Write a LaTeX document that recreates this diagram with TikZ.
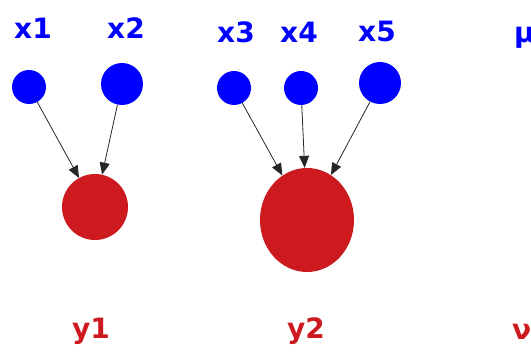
\documentclass[tikz,border=0pt]{standalone}
\usepackage{fontspec}
\setmainfont{DejaVu Sans}
\usepackage{xcolor}
\usetikzlibrary{arrows.meta,shapes.geometric}
\definecolor{InBlue}{HTML}{0000FF}
\definecolor{OutRed}{HTML}{CD1A1F}

\begin{document}
\begin{tikzpicture}[x=1pt,y=-1pt,>={Triangle[length=12pt,width=10pt]},
  every node/.style={inner sep=0pt},
  innode/.style={circle,fill=InBlue,draw=none},
  outnode/.style={ellipse,fill=OutRed,draw=none},
  inlab/.style={anchor=base,text=InBlue,font=\fontsize{28}{30}\selectfont\bfseries},
  outlab/.style={anchor=base,text=OutRed,font=\fontsize{28}{30}\selectfont\bfseries},
  edge/.style={->,draw=black!85,line width=0.8pt}]
  \clip (0,0) rectangle (531,352);
  \useasboundingbox (0,0) rectangle (531,352);
  % inputs
  \node[innode,minimum size=34pt] (x1) at (29,87) {};
  \node[innode,minimum size=42pt] (x2) at (122,84) {};
  \node[innode,minimum size=34pt] (x3) at (234,88) {};
  \node[innode,minimum size=34pt] (x4) at (301,88) {};
  \node[innode,minimum size=42pt] (x5) at (380,83) {};
  % outputs
  \node[outnode,minimum width=66pt,minimum height=66pt] (y1) at (95,207) {};
  \node[outnode,minimum width=94pt,minimum height=104pt] (y2) at (307,220) {};
  % labels
  \node[inlab] (lx1) at (33,39) {x1};
  \node[inlab] (lx2) at (126,39) {x2};
  \node[inlab] (lx3) at (236,43) {x3};
  \node[inlab] (lx4) at (299,43) {x4};
  \node[inlab] (lx5) at (377,42) {x5};
  \node[inlab,anchor=base west] (lmu) at (514,43) {μ};
  \node[outlab] (ly1) at (91,339) {y1};
  \node[outlab] (ly2) at (306,339) {y2};
  \node[outlab,anchor=base west] (lnu) at (512,340) {ν};
  % edges
  \draw[edge] (x1)--(y1);\draw[edge] (x2)--(y1);
  \draw[edge] (x3)--(y2);\draw[edge] (x4)--(y2);\draw[edge] (x5)--(y2);
\end{tikzpicture}
\end{document}
